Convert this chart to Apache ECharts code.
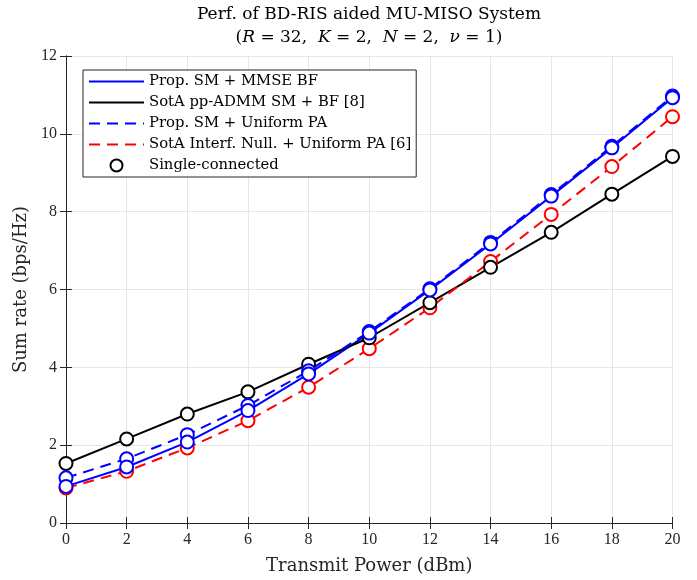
<!DOCTYPE html>
<html>
<head>
<meta charset="utf-8">
<script src="https://cdn.jsdelivr.net/npm/echarts@6/dist/echarts.min.js"></script>
<style>
html,body{margin:0;padding:0;background:#fff;}
#chart{width:697px;height:580px;}
</style>
</head>
<body>
<div id="chart"></div>
<script>
var xValues = [0, 2, 4, 6, 8, 10, 12, 14, 16, 18, 20];
var propMMSE = [0.94, 1.44, 2.08, 2.89, 3.83, 4.88, 5.99, 7.17, 8.40, 9.64, 10.93];
var sotaADMM = [1.53, 2.16, 2.80, 3.37, 4.08, 4.76, 5.66, 6.57, 7.47, 8.45, 9.42];
var propUPA = [1.16, 1.65, 2.27, 3.02, 3.91, 4.92, 6.02, 7.21, 8.44, 9.68, 10.97];
var sotaNull = [0.90, 1.33, 1.93, 2.63, 3.49, 4.48, 5.53, 6.72, 7.93, 9.16, 10.44];
var seriesNames = ['Prop. SM + MMSE BF', 'SotA pp-ADMM SM + BF [8]', 'Prop. SM + Uniform PA', 'SotA Interf. Null. + Uniform PA [6]'];
var markerName = 'Single-connected';

function pairs(arr) { return xValues.map(function (x, i) { return [x, arr[i]]; }); }

var NUMFONT = 'Liberation Serif';
var TXTFONT = 'DejaVu Serif';
var AX = '#262626';

var lineDefs = [
  { name: seriesNames[0], data: propMMSE, color: '#0000ff', type: 'solid' },
  { name: seriesNames[1], data: sotaADMM, color: '#000000', type: 'solid' },
  { name: seriesNames[2], data: propUPA, color: '#0000ff', type: [11, 7] },
  { name: seriesNames[3], data: sotaNull, color: '#ff0000', type: [11, 7] }
];

var series = lineDefs.map(function (d) {
  return {
    name: d.name, type: 'line', data: pairs(d.data), symbol: 'none',
    lineStyle: { color: d.color, width: 2, type: d.type },
    itemStyle: { color: d.color }, z: 2, animation: false
  };
});

var markerDefs = [
  { name: 'sc-red', data: sotaNull, color: '#ff0000' },
  { name: markerName, data: sotaADMM, color: '#000000' },
  { name: 'sc-blue2', data: propUPA, color: '#0000ff' },
  { name: 'sc-blue1', data: propMMSE, color: '#0000ff' }
];
markerDefs.forEach(function (d) {
  series.push({
    name: d.name, type: 'scatter', data: pairs(d.data), symbol: 'circle', symbolSize: 13,
    itemStyle: { color: '#ffffff', borderColor: d.color, borderWidth: 2, opacity: 1 },
    z: 3, animation: false
  });
});

var legendData = seriesNames.map(function (n) { return { name: n, itemStyle: { opacity: 0 } }; });
legendData.push({ name: markerName, icon: 'circle', itemStyle: { color: '#ffffff', borderColor: '#000000', borderWidth: 2, opacity: 1 } });

var chart = echarts.init(document.getElementById('chart'), null, { renderer: 'canvas' });
chart.setOption({
  backgroundColor: '#ffffff',
  animation: false,
  textStyle: { fontFamily: TXTFONT },
  title: {
    left: 369, top: 3, padding: 0, textAlign: 'center',
    text: '{a|Perf. of BD-RIS aided MU-MISO System}\n{a|(}{i|R}{a| = 32,  }{i|K}{a| = 2,  }{i|N}{a| = 2,  }{i|ν}{a| = 1)}',
    textStyle: {
      fontWeight: 'normal',
      rich: {
        a: { fontFamily: TXTFONT, fontSize: 17, color: '#000', fontWeight: 'normal', lineHeight: 23 },
        i: { fontFamily: TXTFONT, fontSize: 17, color: '#000', fontStyle: 'italic', fontWeight: 'normal', lineHeight: 23 }
      }
    }
  },
  grid: { left: 66, right: 24.5, top: 56, bottom: 55.5, show: false },
  legend: {
    orient: 'vertical', left: 83, top: 70, padding: [4, 5, 4, 5],
    itemWidth: 55, itemHeight: 12, itemGap: 6,
    backgroundColor: '#ffffff', borderColor: AX, borderWidth: 1,
    textStyle: { fontFamily: TXTFONT, fontSize: 14.8, color: '#000', lineHeight: 14 },
    data: legendData, selectedMode: false
  },
  xAxis: [
    {
      type: 'value', min: 0, max: 20, interval: 2, position: 'bottom',
      name: 'Transmit Power (dBm)', nameLocation: 'middle', nameGap: 34,
      nameTextStyle: { fontFamily: TXTFONT, fontSize: 18, color: AX },
      axisLine: { show: true, lineStyle: { color: AX, width: 1 } },
      axisTick: { show: true, inside: true, length: 6, lineStyle: { color: AX } },
      axisLabel: { fontFamily: NUMFONT, fontSize: 16, color: AX, margin: 9 },
      splitLine: { show: true, lineStyle: { color: '#e6e6e6', width: 1 } }
    },
    {
      type: 'value', min: 0, max: 20, interval: 2, position: 'top',
      axisLine: { show: true, lineStyle: { color: AX, width: 1 } },
      axisTick: { show: true, inside: true, length: 6, lineStyle: { color: AX } },
      axisLabel: { show: false }, splitLine: { show: false }
    }
  ],
  yAxis: [
    {
      type: 'value', min: 0, max: 12, interval: 2, position: 'left',
      name: 'Sum rate (bps/Hz)', nameLocation: 'middle', nameGap: 34,
      nameTextStyle: { fontFamily: TXTFONT, fontSize: 18, color: AX },
      axisLine: { show: true, lineStyle: { color: AX, width: 1 } },
      axisTick: { show: true, inside: true, length: 6, lineStyle: { color: AX } },
      axisLabel: { fontFamily: NUMFONT, fontSize: 16, color: AX, margin: 9 },
      splitLine: { show: true, lineStyle: { color: '#e6e6e6', width: 1 } }
    },
    {
      type: 'value', min: 0, max: 12, interval: 2, position: 'right',
      axisLine: { show: true, lineStyle: { color: AX, width: 1 } },
      axisTick: { show: true, inside: true, length: 6, lineStyle: { color: AX } },
      axisLabel: { show: false }, splitLine: { show: false }
    }
  ],
  series: series
});
</script>
</body>
</html>
